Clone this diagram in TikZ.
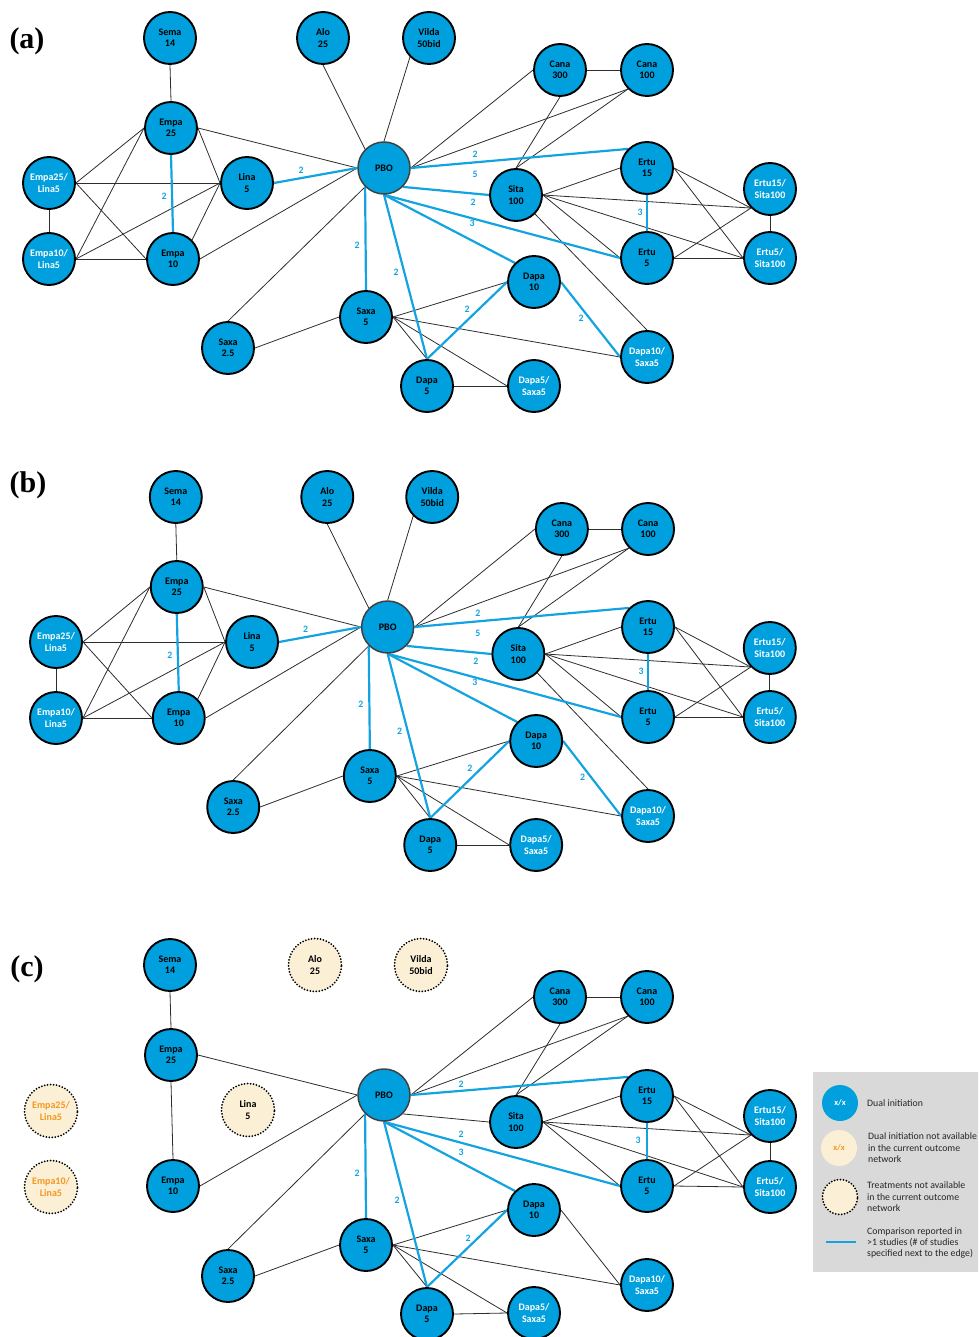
\documentclass[tikz,border=0pt]{standalone}
\usepackage{fontspec}
\setmainfont{Carlito}
\newfontfamily\tnr{Liberation Serif}
\pgfdeclarelayer{bg}
\pgfsetlayers{bg,main}
\definecolor{nblue}{RGB}{0,160,222}
\definecolor{eblue}{RGB}{20,163,225}
\definecolor{beige}{RGB}{251,240,214}
\definecolor{ltgray}{RGB}{217,217,217}
\definecolor{orng}{RGB}{245,150,30}
\definecolor{edgegray}{RGB}{45,45,45}
\tikzset{
 tr/.style={circle, draw=black, line width=1.9pt, fill=nblue, minimum size=52pt, inner sep=0pt, align=center, font=\fontsize{10}{11.3}\selectfont\bfseries, text=black},
 combo/.style={tr, text=white},
 pbo/.style={tr, draw=black!75, line width=1.5pt},
 na/.style={circle, draw=black, fill=beige, line width=2pt, dash pattern=on 0pt off 3pt, line cap=round, minimum size=53pt, inner sep=0pt, align=center, font=\fontsize{10}{11.3}\selectfont\bfseries, text=black},
 naorange/.style={na, text=orng},
 ln/.style={draw=edgegray, line width=0.8pt},
 bl/.style={draw=eblue, line width=2.2pt},
 lbl/.style={font=\fontsize{9.8}{10}\selectfont\bfseries, text=eblue, inner sep=0pt},
 panellbl/.style={font=\tnr\fontsize{30}{30}\selectfont\bfseries, inner sep=0pt},
 lgtext/.style={font=\fontsize{9.8}{11.4}\selectfont, anchor=west, align=left, inner sep=0pt, text=black!85},
}
\newcommand\fullpanel[1]{%
 \node[tr] (#1Sema) at (170,38) {Sema\\14};
 \node[tr] (#1Alo) at (323,38) {Alo\\25};
 \node[tr] (#1Vilda) at (429,38) {Vilda\\50bid};
 \node[tr] (#1E25) at (171,128) {Empa\\25};
 \node[combo] (#1E25L) at (49,183) {Empa25/\\Lina5};
 \node[tr] (#1Lina) at (247,183) {Lina\\5};
 \node[combo] (#1E10L) at (49,259) {Empa10/\\Lina5};
 \node[tr] (#1E10) at (173,259) {Empa\\10};
 \node[pbo] (#1PBO) at (384,168) {PBO};
 \node[tr] (#1Sx25) at (228,348) {Saxa\\2.5};
 \node[tr] (#1Sx5) at (366,317) {Saxa\\5};
 \node[tr] (#1D5) at (427,386) {Dapa\\5};
 \node[tr] (#1C300) at (560,70) {Cana\\300};
 \node[tr] (#1C100) at (647,70) {Cana\\100};
 \node[tr] (#1E15) at (647,168) {Ertu\\15};
 \node[tr] (#1Sita) at (516,195) {Sita\\100};
 \node[combo] (#1E15S) at (770,189) {Ertu15/\\Sita100};
 \node[tr] (#1E5) at (647,258) {Ertu\\5};
 \node[combo] (#1E5S) at (770,258) {Ertu5/\\Sita100};
 \node[tr] (#1D10) at (534,282) {Dapa\\10};
 \node[combo] (#1D10S) at (647,357) {Dapa10/\\Saxa5};
 \node[combo] (#1D5S) at (534,386) {Dapa5/\\Saxa5};
 \begin{pgfonlayer}{bg}
 \draw[ln] (#1Sema.south) -- (#1E25.north);
 \draw[ln] (#1Alo.south) -- (#1PBO.north west);
 \draw[ln] (#1Vilda.south west) -- (#1PBO.north);
 \draw[ln] (#1E25.east) -- (#1PBO.west);
 \draw[ln] (#1E25.east) -- (#1Lina.west);
 \draw[ln] (#1E25.west) -- (#1E25L.east);
 \draw[ln] (#1E25.west) -- (#1E10L.east);
 \draw[ln] (#1E25L.east) -- (#1Lina.west);
 \draw[ln] (#1E25L.east) -- (#1E10.west);
 \draw[ln] (#1E25L.south) -- (#1E10L.north);
 \draw[ln] (#1E10L.east) -- (#1Lina.west);
 \draw[ln] (#1E10L.east) -- (#1E10.west);
 \draw[ln] (#1E10.north east) -- (#1Lina.west);
 \draw[ln] (#1E10.east) -- (#1PBO.west);
 \draw[ln] (#1Sx25.north) -- (#1PBO.south west);
 \draw[ln] (#1Sx25.east) -- (#1Sx5.west);
 \draw[ln] (#1PBO.east) -- (#1C300.west);
 \draw[ln] (#1PBO.east) -- (#1C100.south west);
 \draw[ln] (#1C300.east) -- (#1C100.west);
 \draw[ln] (#1C300.south) -- (#1Sita.north);
 \draw[ln] (#1C100.south west) -- (#1Sita.north);
 \draw[ln] (#1Sita.east) -- (#1E15.west);
 \draw[ln] (#1Sita.east) -- (#1E15S.south west);
 \draw[ln] (#1Sita.east) -- (#1E5.west);
 \draw[ln] (#1Sita.east) -- (#1E5S.west);
 \draw[ln] (#1Sita.south east) -- (#1D10S.north);
 \draw[ln] (#1E15.east) -- (#1E15S.south west);
 \draw[ln] (#1E15.east) -- (#1E5S.west);
 \draw[ln] (#1E5.east) -- (#1E15S.south west);
 \draw[ln] (#1E5.east) -- (#1E5S.west);
 \draw[ln] (#1E15S.south) -- (#1E5S.north);
 \draw[ln] (#1Sx5.east) -- (#1D10.west);
 \draw[ln] (#1Sx5.east) -- (#1D5.north);
 \draw[ln] (#1Sx5.east) -- (#1D5S.west);
 \draw[ln] (#1Sx5.east) -- (#1D10S.west);
 \draw[ln] (#1D5.east) -- (#1D5S.west);
 \draw[bl] (#1E25.south) -- (#1E10.north);
 \draw[bl] (#1Lina.east) -- (#1PBO.west);
 \draw[bl] (#1PBO.east) -- (#1E15.north west);
 \draw[bl] (#1PBO.south east) -- (#1Sita.west);
 \draw[bl] (#1PBO.south) -- (#1E5.west);
 \draw[bl] (#1PBO.south) -- (#1D10.north west);
 \draw[bl] (#1PBO.south west) -- (#1Sx5.north);
 \draw[bl] (#1PBO.south) -- (#1D5.north);
 \draw[bl] (#1D5.north) -- (#1D10.west);
 \draw[bl] (#1D10.east) -- (#1D10S.west);
 \draw[bl] (#1E15.south) -- (#1E5.north);
 \end{pgfonlayer}
 \node[lbl] (#1l1) at (301,170) {2};
 \node[lbl] (#1l2) at (164,196) {2};
 \node[lbl] (#1l3) at (357,245) {2};
 \node[lbl] (#1l4) at (396,272) {2};
 \node[lbl] (#1l5) at (467,309) {2};
 \node[lbl] (#1l6) at (475,154) {2};
 \node[lbl] (#1l7) at (475,174) {5};
 \node[lbl] (#1l8) at (473,202) {2};
 \node[lbl] (#1l9) at (472,223) {3};
 \node[lbl] (#1l10) at (640,212) {3};
 \node[lbl] (#1l11) at (581,318) {2};
}
\begin{document}
\begin{tikzpicture}[x=1pt,y=-1pt]
\clip (0,0) rectangle (978,1337);
% panel (a)
\node[panellbl] (pa) at (27,41) {(a)};
\fullpanel{a}
% panel (b)
\node[panellbl] (pb) at (28,485) {(b)};
\begin{scope}[shift={(7.5,459)}, xscale=0.99]
\fullpanel{b}
\end{scope}
% panel (c)
\node[panellbl] (pc) at (27,969) {(c)};
\begin{scope}[shift={(0,927)}]
 \node[tr] (cSema) at (170,38) {Sema\\14};
 \node[na] (cAlo) at (315,38) {Alo\\25};
 \node[na] (cVilda) at (421,38) {Vilda\\50bid};
 \node[tr] (cE25) at (171,128) {Empa\\25};
 \node[naorange] (cE25L) at (51,184) {Empa25/\\Lina5};
 \node[na] (cLina) at (248,183) {Lina\\5};
 \node[naorange] (cE10L) at (51,260) {Empa10/\\Lina5};
 \node[tr] (cE10) at (173,259) {Empa\\10};
 \node[pbo] (cPBO) at (384,168) {PBO};
 \node[tr] (cSx25) at (228,349) {Saxa\\2.5};
 \node[tr] (cSx5) at (366,318) {Saxa\\5};
 \node[tr] (cD5) at (427,387) {Dapa\\5};
 \node[tr] (cC300) at (560,70) {Cana\\300};
 \node[tr] (cC100) at (647,70) {Cana\\100};
 \node[tr] (cE15) at (647,169) {Ertu\\15};
 \node[tr] (cSita) at (516,195) {Sita\\100};
 \node[combo] (cE15S) at (770,189) {Ertu15/\\Sita100};
 \node[tr] (cE5) at (647,259) {Ertu\\5};
 \node[combo] (cE5S) at (770,260) {Ertu5/\\Sita100};
 \node[tr] (cD10) at (534,283) {Dapa\\10};
 \node[combo] (cD10S) at (647,358) {Dapa10/\\Saxa5};
 \node[combo] (cD5S) at (534,386) {Dapa5/\\Saxa5};
 \begin{pgfonlayer}{bg}
 \draw[ln] (cSema.south) -- (cE25.north);
 \draw[ln] (cE25.south) -- (cE10.north);
 \draw[ln] (cE25.east) -- (cPBO.west);
 \draw[ln] (cE10.east) -- (cPBO.west);
 \draw[ln] (cSx25.north) -- (cPBO.south west);
 \draw[ln] (cSx25.east) -- (cSx5.west);
 \draw[ln] (cPBO.east) -- (cC300.west);
 \draw[ln] (cPBO.east) -- (cC100.south west);
 \draw[ln] (cPBO.south east) -- (cSita.west);
 \draw[ln] (cC300.east) -- (cC100.west);
 \draw[ln] (cC300.south) -- (cSita.north);
 \draw[ln] (cC100.south west) -- (cSita.north);
 \draw[ln] (cSita.east) -- (cE15.west);
 \draw[ln] (cSita.east) -- (cE15S.south west);
 \draw[ln] (cSita.east) -- (cE5.west);
 \draw[ln] (cSita.east) -- (cE5S.west);
 \draw[ln] (cE15.east) -- (cE15S.south west);
 \draw[ln] (cE15.east) -- (cE5S.west);
 \draw[ln] (cE5.east) -- (cE15S.south west);
 \draw[ln] (cE5.east) -- (cE5S.west);
 \draw[ln] (cE15S.south) -- (cE5S.north);
 \draw[ln] (cSx5.east) -- (cD10.west);
 \draw[ln] (cSx5.east) -- (cD5.north);
 \draw[ln] (cSx5.east) -- (cD5S.west);
 \draw[ln] (cSx5.east) -- (cD10S.west);
 \draw[ln] (cD5.east) -- (cD5S.west);
 \draw[ln] (cD10.east) -- (cD10S.west);
 \draw[bl] (cPBO.east) -- (cE15.north west);
 \draw[bl] (cPBO.south) -- (cE5.west);
 \draw[bl] (cPBO.south) -- (cD10.north west);
 \draw[bl] (cPBO.south west) -- (cSx5.north);
 \draw[bl] (cPBO.south) -- (cD5.north);
 \draw[bl] (cD5.north) -- (cD10.west);
 \draw[bl] (cE15.south) -- (cE5.north);
 \end{pgfonlayer}
 \node[lbl] (cl1) at (357,246) {2};
 \node[lbl] (cl2) at (397,273) {2};
 \node[lbl] (cl3) at (468,311) {2};
 \node[lbl] (cl4) at (461,157) {2};
 \node[lbl] (cl5) at (461,207) {2};
 \node[lbl] (cl6) at (461,225) {3};
 \node[lbl] (cl7) at (638,213) {3};
\end{scope}
% legend
\fill[ltgray] (813,1072) rectangle (990,1272);
\node[circle, fill=nblue, minimum size=36pt, inner sep=0pt, font=\fontsize{8.5}{10}\selectfont\bfseries, text=white] (lg1) at (840,1103) {x/x};
\node[lgtext] (lt1) at (867,1103) {Dual initiation};
\node[circle, fill=beige, minimum size=36pt, inner sep=0pt, font=\fontsize{8.5}{10}\selectfont\bfseries, text=orng] (lg2) at (839,1148) {x/x};
\node[lgtext] (lt2) at (868,1148) {Dual initiation not available\\in the current outcome\\network};
\node[circle, fill=beige, draw=black, line width=2pt, dash pattern=on 0pt off 3pt, line cap=round, minimum size=35pt, inner sep=0pt] (lg3) at (840,1197) {};
\node[lgtext] (lt3) at (867,1197) {Treatments not available\\in the current outcome\\network};
\coordinate (lg4a) at (826,1242);
\coordinate (lg4b) at (856,1242);
\draw[bl] (lg4a) -- (lg4b);
\node[lgtext] (lt4) at (867,1243) {Comparison reported in\\>1 studies (\# of studies\\specified next to the edge)};
\end{tikzpicture}
\end{document}
